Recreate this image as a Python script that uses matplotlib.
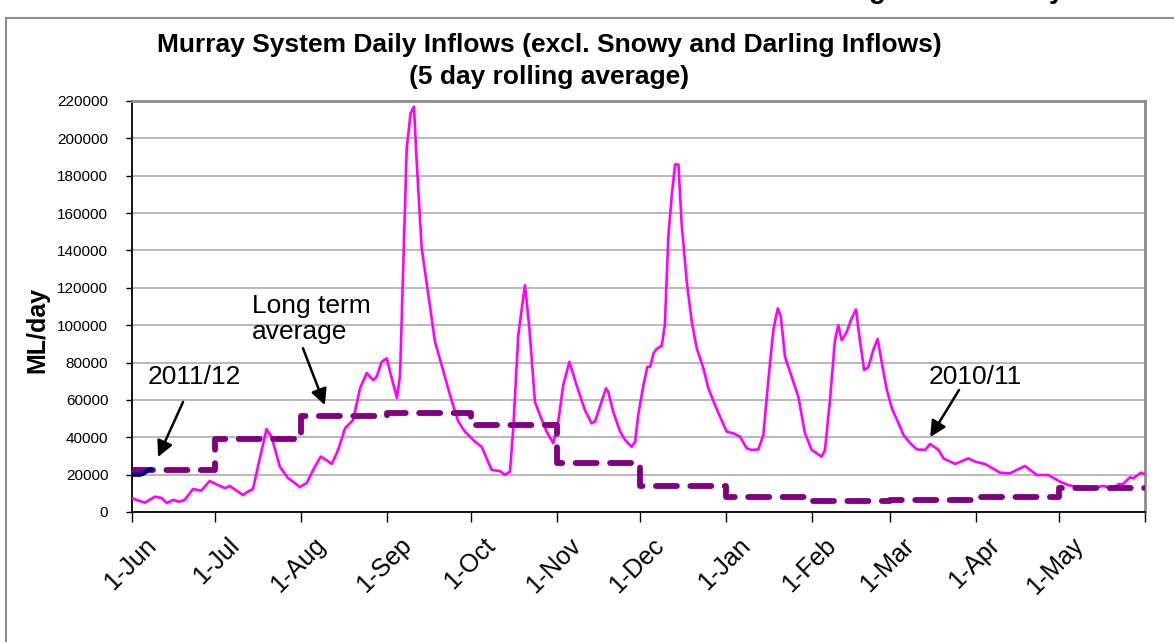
import matplotlib
matplotlib.use("Agg")
import matplotlib.pyplot as plt
import matplotlib.transforms as mtransforms
from matplotlib.lines import Line2D

plt.rcParams['font.family'] = ['Liberation Sans', 'DejaVu Sans']

# 2010/11 inflows, 5 day rolling average (day of water year from 1-Jun, ML/day)
days_1011 = [0, 1.7, 4.7, 8.3, 10.7, 12.5, 14.8, 17, 19, 22, 25, 28, 31, 33.5, 35.3,
             37.7, 40, 41.8, 43.6, 45.4, 48.5, 50.3, 53.3, 56.2, 60.5, 63, 65.3, 68,
             70, 72, 74.3, 76.8, 79.7, 82.2, 84.6, 86.9, 88.2, 90, 91.8, 93.6, 95.5,
             96.6, 99, 100.4, 101.6, 102.6, 104.4, 106.8, 109.2, 111.6, 114.6, 117.6,
             120, 123.6, 126, 129.6, 132.6, 134.4, 136.2, 137.4, 139.2, 141.6, 143.2,
             145.2, 147, 149.4, 151.8, 153.6, 155.4, 157.6, 160.2, 163.2, 165.6, 166.8,
             168.6, 170.8, 171.6, 173.4, 175.9, 177.7, 180, 181.3, 182.4, 184.3, 185.7,
             186.7, 187.9, 189, 190.9, 192, 193.3, 194.5, 195.7, 196.9, 198, 199.9,
             201.7, 203.5, 205.9, 207.7, 210.1, 211.9, 214.3, 216.7, 219.1, 221.5,
             223.3, 225.7, 227.5, 229.3, 231.1, 232.7, 233.8, 235.3, 237.7, 240.1,
             242.5, 244.9, 246.7, 248.5, 249.7, 251.5, 253.3, 254.5, 255.7, 257.3,
             259.3, 260.9, 262.1, 263.8, 265.3, 267.1, 268.7, 270.2, 272, 273.8, 276.2,
             278, 280.4, 282.8, 285.8, 287.6, 290.6, 292.4, 296.6, 301.4, 303.8, 307.4,
             312.8, 316.4, 318.8, 321.8, 326, 330.2, 334.4, 337.4, 340.4, 345.2, 350,
             353.6, 355.4, 357.2, 359.6, 360.8, 363.5, 365]
flow_1011 = [7500, 6400, 5000, 8200, 7500, 4800, 6400, 5500, 6400, 12300, 11400, 16600,
             14400, 12800, 13900, 11400, 9100, 10900, 12300, 24200, 44400, 40300, 24200,
             18200, 13400, 15500, 22500, 29600, 27800, 25700, 33200, 44900, 49200, 66300,
             74400, 70600, 72400, 80400, 82200, 71700, 61000, 73300, 194700, 213400,
             216900, 187400, 141200, 116100, 91100, 78600, 62600, 48300, 43000, 37600,
             34900, 22500, 21900, 19800, 21600, 44800, 94700, 121400, 98300, 59000,
             51900, 43000, 36800, 48300, 67900, 80400, 67900, 54600, 47500, 48300, 56300,
             66200, 64400, 53700, 43000, 38500, 34900, 37600, 51900, 67900, 77700, 77700,
             84900, 87200, 89000, 100000, 148200, 169600, 186000, 186000, 155300, 123200,
             101800, 87600, 76900, 66200, 57200, 51000, 43000, 42100, 40300, 34100, 33200,
             33500, 41200, 70600, 97400, 109000, 104500, 83100, 72400, 61700, 42100,
             33200, 31400, 29600, 33200, 59900, 92000, 100000, 92000, 95600, 103600,
             108400, 93800, 76000, 77400, 86700, 92600, 79600, 65300, 55500, 47500, 41200,
             36800, 33500, 33200, 36400, 33200, 28700, 25700, 28700, 26900, 25700, 21000,
             20700, 22500, 24600, 19800, 19800, 16200, 14400, 13500, 12700, 13900, 12700,
             14800, 15000, 18600, 18000, 21000, 20200]

# 2011/12 inflows so far
days_1112 = [0, 1, 2, 3, 4, 5, 6, 7]
flow_1112 = [20000, 20000, 20000, 20000, 20500, 21500, 22500, 23000]

# long term average, one value per month
month_start = [0, 30, 61, 92, 122, 153, 183, 214, 245, 273, 304, 334, 365]
month_labels = ['1-Jun', '1-Jul', '1-Aug', '1-Sep', '1-Oct', '1-Nov', '1-Dec',
                '1-Jan', '1-Feb', '1-Mar', '1-Apr', '1-May']
lta = [22500, 39000, 51500, 53000, 46500, 26000, 14000, 7800, 5900, 6400, 7800, 12700]

fig = plt.figure(figsize=(11.74, 6.42), dpi=100)
ax = fig.add_axes([0.1124, 0.2025, 0.8629, 0.6402])

ax.plot(days_1011, flow_1011, color='#FF00FF', lw=1.9, zorder=3)
ax.plot(month_start, lta + [lta[-1]], drawstyle='steps-post', color='#800080',
        lw=4.2, dashes=(3.6, 2.3), dash_capstyle='round', zorder=4)
ax.plot(days_1112, flow_1112, color='#000080', lw=3.2, solid_capstyle='round', zorder=5)

ax.set_xlim(0, 365)
ax.set_ylim(0, 220000)
ax.set_yticks(range(0, 220001, 20000))
ax.set_yticklabels([str(v) for v in range(0, 220001, 20000)], fontsize=11)
ax.yaxis.grid(True, color='#A6A6A6', lw=1.1)
ax.set_axisbelow(True)
ax.tick_params(axis='y', length=4, width=1, pad=13)

ax.set_xticks(month_start)
ax.set_xticklabels(month_labels + [''], fontsize=18, rotation=45, ha='right',
                   rotation_mode='anchor')
ax.tick_params(axis='x', length=7, width=1, pad=4)
offset = mtransforms.ScaledTranslation(12 / 100, -6 / 100, fig.dpi_scale_trans)
for lab in ax.get_xticklabels():
    lab.set_transform(lab.get_transform() + offset)

for s in ['left', 'bottom']:
    ax.spines[s].set_color('black')
    ax.spines[s].set_linewidth(1.3)
for s in ['top', 'right']:
    ax.spines[s].set_color('#8C8C8C')
    ax.spines[s].set_linewidth(2)

fig.text(37 / 1174, 1 - 330 / 642, 'ML/day', rotation=90, fontsize=18,
         fontweight='bold', ha='center', va='center')
fig.text(0.468, 1 - 45 / 642, 'Murray System Daily Inflows (excl. Snowy and Darling Inflows)',
         fontsize=19, fontweight='bold', ha='center', va='center')
fig.text(0.468, 1 - 77 / 642, '(5 day rolling average)',
         fontsize=19, fontweight='bold', ha='center', va='center')

# annotations
arrow = dict(arrowstyle='-|>', color='black', lw=1.8, mutation_scale=24, shrinkA=0, shrinkB=0)
ax.text(5.8, 68500, '2011/12', fontsize=19, va='baseline', ha='left')
ax.annotate('', xy=(9.4, 29400), xytext=(18.4, 58900), arrowprops=arrow)
ax.text(43.2, 116500, 'Long term\naverage', fontsize=19, va='top', ha='left', linespacing=1.1)
ax.annotate('', xy=(69.5, 57200), xytext=(61.6, 87700), arrowprops=arrow)
ax.text(287.2, 68500, '2010/11', fontsize=19, va='baseline', ha='left')
ax.annotate('', xy=(287.6, 40100), xytext=(298.0, 65300), arrowprops=arrow)

# outer chart frame (cut off at right and bottom) and clipped slide heading
fig.add_artist(Line2D([6 / 1174, 6 / 1174], [0, 1 - 18 / 642], color='#8C8C8C', lw=1.5,
                      transform=fig.transFigure))
fig.add_artist(Line2D([6 / 1174, 1], [1 - 18 / 642, 1 - 18 / 642], color='#8C8C8C', lw=1.5,
                      transform=fig.transFigure))
fig.text(877 / 1174, 1 + 2 / 642, 'g', fontsize=20, fontweight='bold', ha='center', va='baseline')
fig.text(1057 / 1174, 1 + 2 / 642, 'y', fontsize=20, fontweight='bold', ha='center', va='baseline')

fig.savefig('out.png', dpi=100)
